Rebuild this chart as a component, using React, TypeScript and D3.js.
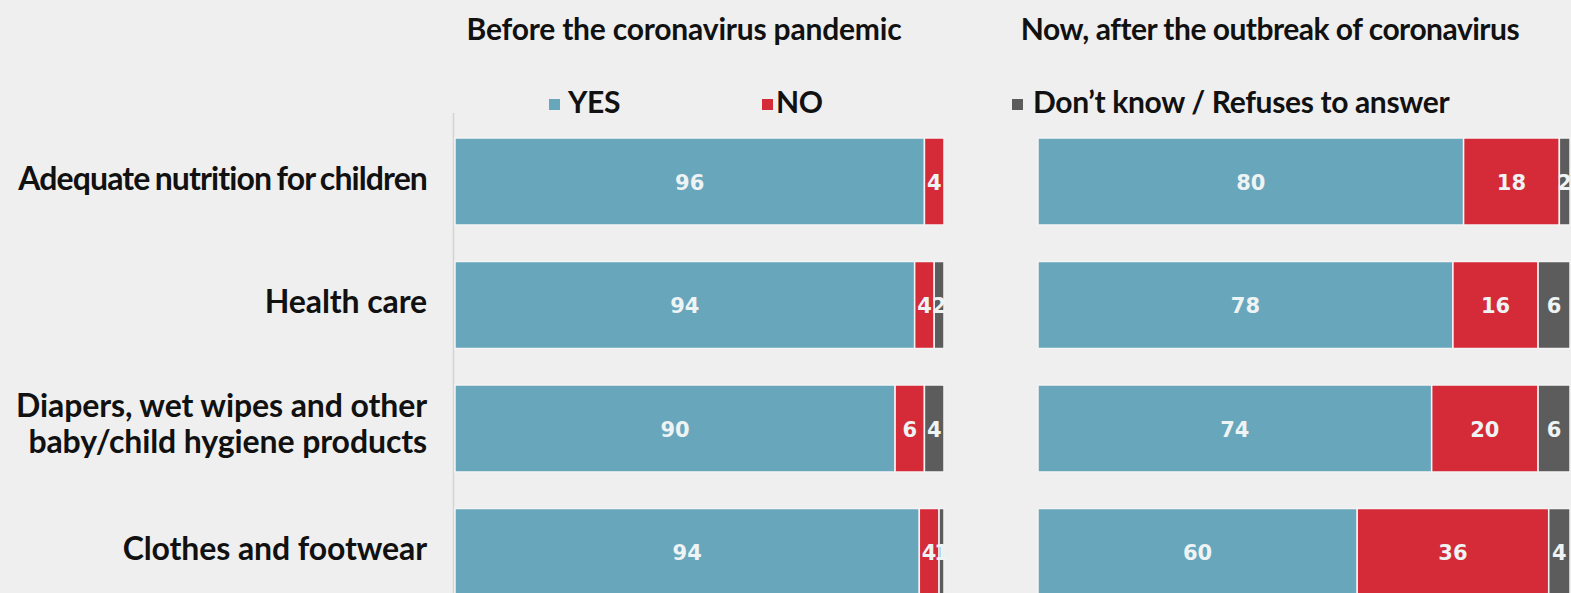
import React from "react";
import * as d3 from "d3";

const categories = [
  "Adequate nutrition for children",
  "Health care",
  "Diapers, wet wipes and other|baby/child hygiene products",
  "Clothes and footwear",
];
const seriesKeys = ["yes", "no", "dk"];
const legendLabels = ["YES", "NO", "Don’t know / Refuses to answer"];
const panelTitles = ["Before the coronavirus pandemic", "Now, after the outbreak of coronavirus"];

const beforeYes = [96, 94, 90, 94];
const beforeNo = [4, 4, 6, 4];
const beforeDk = [0, 2, 4, 1];

const afterYes = [80, 78, 74, 60];
const afterNo = [18, 16, 20, 36];
const afterDk = [2, 6, 6, 4];

const COLORS = ["#68a6bc", "#d52a37", "#5c5c5c"];
const BG = "#efefef";
const W = 1571;
const H = 593;
const LABEL_FONT = "Lato, 'Open Sans', sans-serif";
const VALUE_FONT = "'DejaVu Sans', Verdana, sans-serif";

function buildRows(yes: number[], no: number[], dk: number[]) {
  return categories.map((c, i) => ({ cat: c, yes: yes[i], no: no[i], dk: dk[i] }));
}

const panels = [
  { rows: buildRows(beforeYes, beforeNo, beforeDk), x0: 455, x1: 944, title: panelTitles[0], titleX: 684, ls: -0.2 },
  { rows: buildRows(afterYes, afterNo, afterDk), x0: 1038, x1: 1570, title: panelTitles[1], titleX: 1270, ls: -0.5 },
];

const y = d3
  .scaleBand<string>()
  .domain(categories)
  .range([119.75, 613.75])
  .paddingInner(0.2955)
  .paddingOuter(0.2955 / 2);

const stackGen = d3
  .stack<any>()
  .keys(seriesKeys)
  .offset(d3.stackOffsetExpand);

export default function App() {
  React.useEffect(() => {
    document.body.style.margin = "0";
    document.body.style.background = BG;
  }, []);

  return (
    <svg width={W} height={H} style={{ display: "block", background: BG }}>
      <rect x={0} y={0} width={W} height={H} fill={BG} />
      {/* category labels */}
      {categories.map((c, ci) => {
        const lines = c.split("|");
        const cy = (y(c) as number) + y.bandwidth() / 2;
        const lh = 36;
        const start = cy + 8 - ((lines.length - 1) * lh) / 2 - (lines.length > 1 ? 1.5 : 0);
        const tight = ci === 0;
        return (
          <text
            key={c}
            textAnchor="end"
            fontFamily={LABEL_FONT}
            fontWeight={700}
            fontSize={32}
            letterSpacing={tight ? -0.9 : -0.1}
            wordSpacing={tight ? -1.5 : 0}
            fill="#111"
          >
            {lines.map((l, i) => (
              <tspan key={i} x={427} y={start + i * lh}>
                {l}
              </tspan>
            ))}
          </text>
        );
      })}
      {/* axis line left */}
      <line x1={453.5} x2={453.5} y1={113} y2={H} stroke="#d4d4d4" strokeWidth={1.5} />
      {panels.map((p, pi) => {
        const x = d3.scaleLinear().domain([0, 1]).range([p.x0, p.x1]);
        const stacked = stackGen(p.rows);
        return (
          <g key={pi}>
            <text
              x={p.titleX}
              y={40}
              textAnchor="middle"
              fontFamily={LABEL_FONT}
              fontWeight={700}
              fontSize={30}
              letterSpacing={p.ls}
              fill="#111"
            >
              {p.title}
            </text>
            {stacked.map((s, si) => (
              <g key={si}>
                {s.map((d, di) => {
                  const val = (p.rows[di] as any)[seriesKeys[si]] as number;
                  if (!val) return null;
                  const bx = x(d[0]);
                  const bw = x(d[1]) - x(d[0]);
                  const by = y(categories[di]) as number;
                  return (
                    <g key={di}>
                      <rect
                        x={bx}
                        y={by}
                        width={bw}
                        height={y.bandwidth()}
                        fill={COLORS[si]}
                        stroke="#f4f4f4"
                        strokeWidth={1.5}
                      />
                      <text
                        x={bx + bw / 2}
                        y={by + y.bandwidth() / 2 + 8}
                        textAnchor="middle"
                        fontFamily={VALUE_FONT}
                        fontWeight={700}
                        fontSize={21}
                        fill="#eef3f4"
                      >
                        {val}
                      </text>
                    </g>
                  );
                })}
              </g>
            ))}
          </g>
        );
      })}
      {/* legend */}
      {[
        { sq: 549, tx: 568 },
        { sq: 762, tx: 776 },
        { sq: 1012, tx: 1033 },
      ].map((l, i) => (
        <g key={i}>
          <rect x={l.sq} y={99} width={11} height={11} fill={COLORS[i]} />
          <text
            x={l.tx}
            y={113}
            fontFamily={LABEL_FONT}
            fontWeight={700}
            fontSize={30}
            letterSpacing={-0.35}
            fill="#111"
          >
            {legendLabels[i]}
          </text>
        </g>
      ))}
    </svg>
  );
}
